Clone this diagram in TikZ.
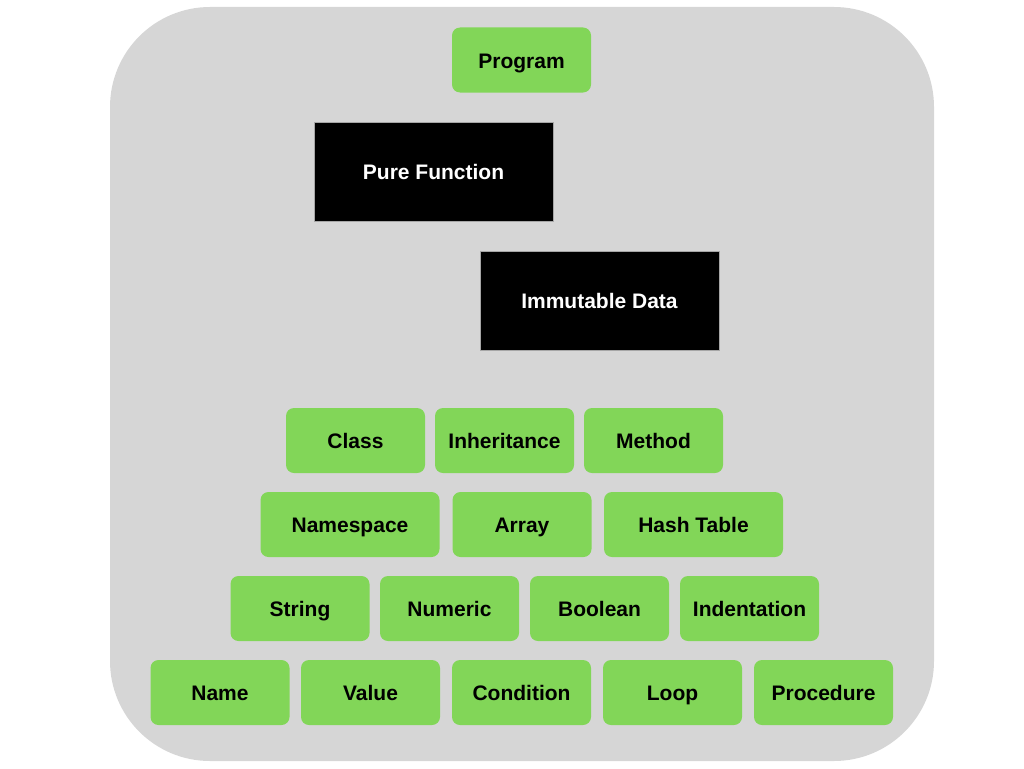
\documentclass[tikz,border=0pt]{standalone}
\usepackage{fontspec}
\setmainfont{Liberation Sans}
\definecolor{bggray}{HTML}{D6D6D6}
\definecolor{boxgreen}{HTML}{82D658}
\tikzset{
  x=1pt, y=-1pt,
  gbox/.style={fill=boxgreen, rounded corners=8pt, minimum width=139pt, minimum height=65pt, inner sep=0pt, text height=18pt, text depth=2pt, font=\fontsize{21}{24}\selectfont\bfseries, text=black},
  kbox/.style={fill=black, draw=gray!70, line width=0.6pt, minimum width=239pt, minimum height=99pt, inner sep=0pt, text height=18pt, text depth=2pt, font=\fontsize{21}{24}\selectfont\bfseries, text=white},
}
\begin{document}
\begin{tikzpicture}
\useasboundingbox (0,0) rectangle (1024,768);
\fill[bggray, rounded corners=100pt] (110,7) rectangle (934,761);
\node[gbox] (program) at (521.5,60) {Program};
\node[kbox] (pure) at (433.5,171.5) {Pure Function};
\node[kbox] (immut) at (599.5,300.5) {Immutable Data};
% row 1
\node[gbox] (class) at (355.5,440.5) {Class};
\node[gbox] (inher) at (504.5,440.5) {Inheritance};
\node[gbox] (method) at (653.5,440.5) {Method};
% row 2
\node[gbox, minimum width=179pt] (ns) at (350,524.5) {Namespace};
\node[gbox] (array) at (522,524.5) {Array};
\node[gbox, minimum width=179pt] (hash) at (693.5,524.5) {Hash Table};
% row 3
\node[gbox] (string) at (300,608.5) {String};
\node[gbox] (numeric) at (449.5,608.5) {Numeric};
\node[gbox] (bool) at (599.5,608.5) {Boolean};
\node[gbox] (indent) at (749.5,608.5) {Indentation};
% row 4
\node[gbox] (name) at (220,692.5) {Name};
\node[gbox] (value) at (370.5,692.5) {Value};
\node[gbox] (cond) at (521.5,692.5) {Condition};
\node[gbox] (loop) at (672.5,692.5) {Loop};
\node[gbox] (proc) at (823.5,692.5) {Procedure};
\end{tikzpicture}
\end{document}
